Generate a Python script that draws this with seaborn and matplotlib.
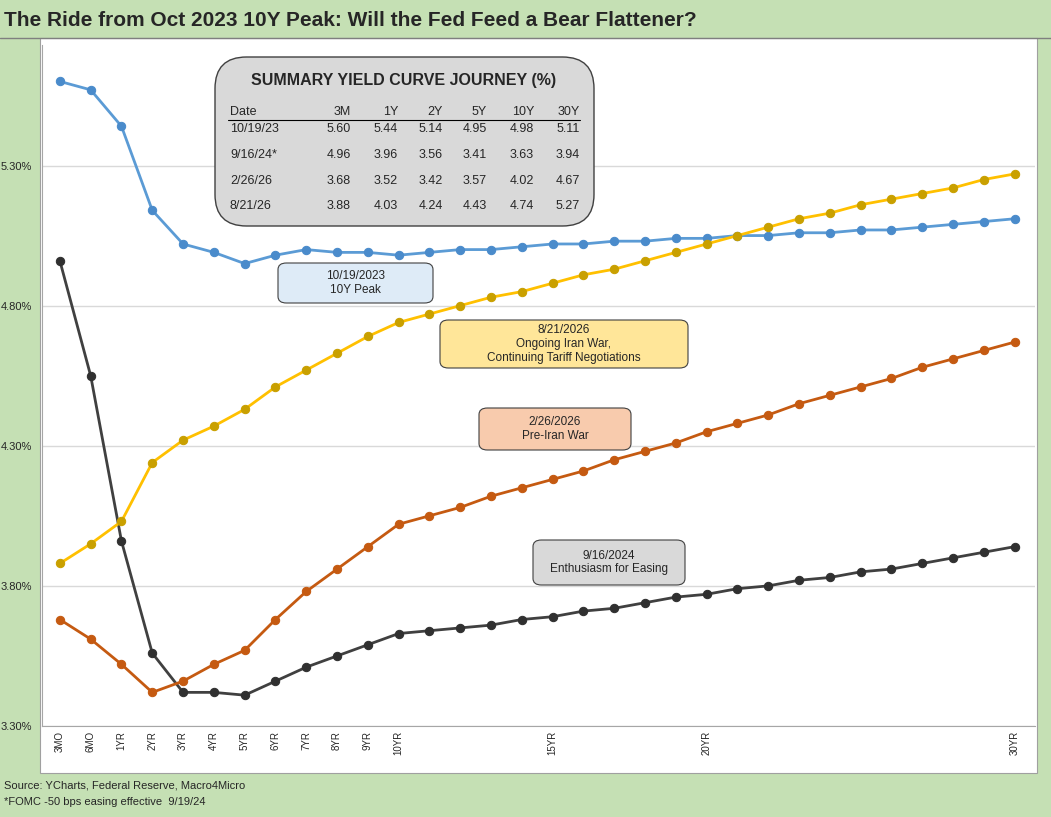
import matplotlib.pyplot as plt
import matplotlib.patches as mpatches
import seaborn as sns
import pandas as pd
import numpy as np

tenors = ['3MO', '6MO', '1YR', '2YR', '3YR', '4YR', '5YR', '6YR', '7YR', '8YR', '9YR', '10YR'] + \
         [f'{i}YR' for i in range(11, 31)]
shown_labels = {'15YR', '20YR', '30YR'}

y_2023 = [5.60, 5.57, 5.44, 5.14, 5.02, 4.99, 4.95, 4.98, 5.00, 4.99, 4.99, 4.98,
          4.99, 5.00, 5.00, 5.01, 5.02, 5.02, 5.03, 5.03, 5.04, 5.04, 5.05, 5.05,
          5.06, 5.06, 5.07, 5.07, 5.08, 5.09, 5.10, 5.11]
y_2024 = [4.96, 4.55, 3.96, 3.56, 3.42, 3.42, 3.41, 3.46, 3.51, 3.55, 3.59, 3.63,
          3.64, 3.65, 3.66, 3.68, 3.69, 3.71, 3.72, 3.74, 3.76, 3.77, 3.79, 3.80,
          3.82, 3.83, 3.85, 3.86, 3.88, 3.90, 3.92, 3.94]
y_feb26 = [3.68, 3.61, 3.52, 3.42, 3.46, 3.52, 3.57, 3.68, 3.78, 3.86, 3.94, 4.02,
           4.05, 4.08, 4.12, 4.15, 4.18, 4.21, 4.25, 4.28, 4.31, 4.35, 4.38, 4.41,
           4.45, 4.48, 4.51, 4.54, 4.58, 4.61, 4.64, 4.67]
y_aug26 = [3.88, 3.95, 4.03, 4.24, 4.32, 4.37, 4.43, 4.51, 4.57, 4.63, 4.69, 4.74,
           4.77, 4.80, 4.83, 4.85, 4.88, 4.91, 4.93, 4.96, 4.99, 5.02, 5.05, 5.08,
           5.11, 5.13, 5.16, 5.18, 5.20, 5.22, 5.25, 5.27]

series = {'10/19/23': (y_2023, '#5b9bd5', '#4a8bcb'),
          '9/16/24': (y_2024, '#404040', '#303030'),
          '2/26/26': (y_feb26, '#c55a11', '#c55a11'),
          '8/21/26': (y_aug26, '#ffc000', '#c9a000')}

table_cols = ['Date', '3M', '1Y', '2Y', '5Y', '10Y', '30Y']
table_rows = [['10/19/23', '5.60', '5.44', '5.14', '4.95', '4.98', '5.11'],
              ['9/16/24*', '4.96', '3.96', '3.56', '3.41', '3.63', '3.94'],
              ['2/26/26', '3.68', '3.52', '3.42', '3.57', '4.02', '4.67'],
              ['8/21/26', '3.88', '4.03', '4.24', '4.43', '4.74', '5.27']]

sns.set_style('white')
plt.rcParams['font.family'] = ['Arial', 'Liberation Sans', 'DejaVu Sans']

W, H = 1051, 817
fig = plt.figure(figsize=(W / 100, H / 100), dpi=100)
fig.patch.set_facecolor('#c5e0b4')

def px(x, y):
    return x / W, 1 - y / H

# title band line and white panel
fig.add_artist(plt.Line2D([0, 1], [1 - 38 / H] * 2, color='#7f7f7f', lw=1))
fig.add_artist(mpatches.Rectangle(px(40, 773), 997 / W, 735 / H, facecolor='white',
                                  edgecolor='#a0a0a0', lw=0.8, transform=fig.transFigure, zorder=0))
fig.text(*px(4, 20), 'The Ride from Oct 2023 10Y Peak: Will the Fed Feed a Bear Flattener?',
         fontsize=15, fontweight='bold', va='center', ha='left')

ax = fig.add_axes([42 / W, 1 - 726 / H, (1035 - 42) / W, (726 - 45) / H])
ax.set_facecolor('none')
x = np.arange(len(tenors))
for name, (vals, lc, mc) in series.items():
    df = pd.DataFrame({'x': x, 'y': vals})
    sns.lineplot(data=df, x='x', y='y', ax=ax, color=lc, lw=2, marker='o', markersize=6,
                 markerfacecolor=mc, markeredgecolor=mc, zorder=3)

ax.set_xlim(-0.58, 31.66)
ax.set_ylim(3.30, 5.73)
ax.set_yticks([3.30, 3.80, 4.30, 4.80, 5.30])
ax.set_yticklabels([f'{v:.2f}%' for v in [3.30, 3.80, 4.30, 4.80, 5.30]], fontsize=8)
ax.set_xticks(x)
ax.set_xticklabels([t if (i < 12 or t in shown_labels) else '' for i, t in enumerate(tenors)],
                   rotation=90, fontsize=7)
ax.tick_params(axis='x', length=0)
ax.set_xlabel('')
ax.set_ylabel('')
ax.yaxis.grid(True, color='#d9d9d9', lw=1)
for s in ['top', 'right']:
    ax.spines[s].set_visible(False)
for s in ['left', 'bottom']:
    ax.spines[s].set_color('#a6a6a6')

# summary table box
fig.add_artist(mpatches.FancyBboxPatch(px(215, 226), 379 / W, 169 / H,
                                       boxstyle='round,pad=0,rounding_size=0.03',
                                       facecolor='#d9d9d9', edgecolor='#404040', lw=1,
                                       transform=fig.transFigure, zorder=5, mutation_aspect=W / H))
fig.text(*px(404, 80), 'SUMMARY YIELD CURVE JOURNEY (%)', fontsize=11.5, fontweight='bold',
         ha='center', va='center', zorder=6)
col_x = [230, 338, 385, 430, 474, 521, 567]
for j, c in enumerate(table_cols):
    fig.text(*px(col_x[j] + (0 if j == 0 else 13), 112), c, fontsize=9,
             ha='left' if j == 0 else 'right', va='center', zorder=6)
fig.add_artist(plt.Line2D([228 / W, 580 / W], [1 - 120 / H] * 2, color='black', lw=0.8, zorder=6))
row_y = [129, 155, 181, 206]
for r, row in zip(row_y, table_rows):
    for j, v in enumerate(row):
        fig.text(*px(col_x[j] + (0 if j == 0 else 13), r), v, fontsize=9,
                 ha='left' if j == 0 else 'right', va='center', zorder=6)

def note(x0, y0, x1, y1, text, fc):
    fig.add_artist(mpatches.FancyBboxPatch(px(x0, y1), (x1 - x0) / W, (y1 - y0) / H,
                                           boxstyle='round,pad=0,rounding_size=0.008',
                                           facecolor=fc, edgecolor='#404040', lw=0.8,
                                           transform=fig.transFigure, zorder=5))
    fig.text(*px((x0 + x1) / 2, (y0 + y1) / 2), text, fontsize=8.5, ha='center', va='center',
             zorder=6, linespacing=1.2)

note(278, 263, 433, 303, '10/19/2023\n10Y Peak', '#deebf7')
note(440, 320, 688, 368, '8/21/2026\nOngoing Iran War,\nContinuing Tariff Negotiations', '#ffe699')
note(479, 408, 631, 450, '2/26/2026\nPre-Iran War', '#f8cbad')
note(533, 540, 685, 585, '9/16/2024\nEnthusiasm for Easing', '#d9d9d9')

fig.text(*px(4, 786), 'Source: YCharts, Federal Reserve, Macro4Micro', fontsize=8, va='center')
fig.text(*px(4, 802), '*FOMC -50 bps easing effective  9/19/24', fontsize=8, va='center')

fig.savefig('out.png', dpi=100, facecolor=fig.get_facecolor())
